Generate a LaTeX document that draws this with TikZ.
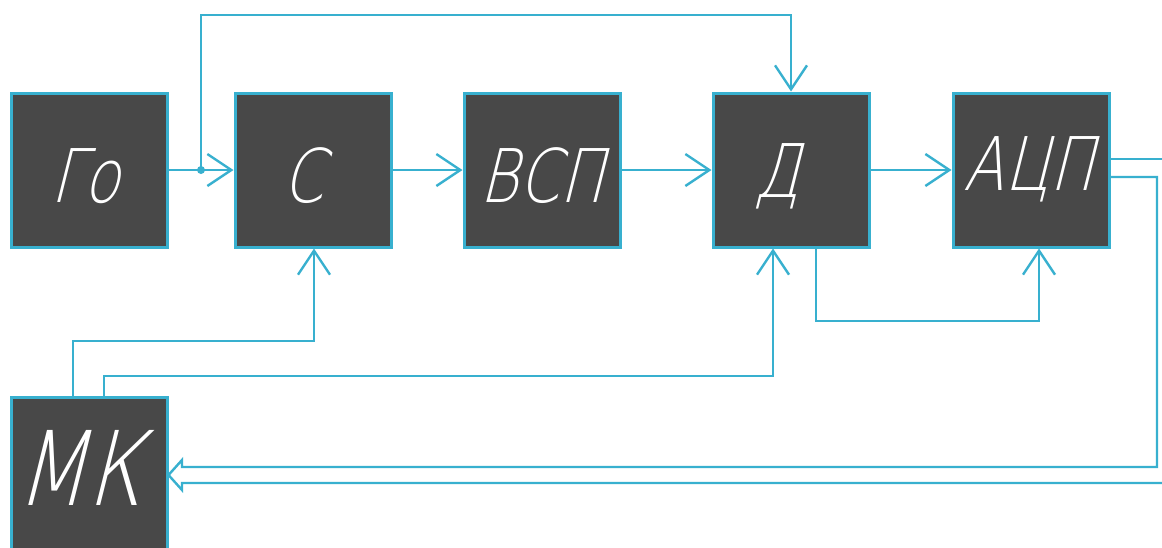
\documentclass[tikz,border=0pt]{standalone}
\usepackage{fontspec}
\newfontfamily\gost[FakeSlant=0.25,FakeStretch=0.8]{DejaVu Sans ExtraLight}
\usetikzlibrary{arrows.meta,calc}
\definecolor{wire}{HTML}{38B0CF}
\definecolor{blockfill}{HTML}{484848}
% label with an optical correction for the slanted face
\newcommand{\lbl}[3]{\raisebox{#2}[\height][\depth]{#3\kern#1}}
\tikzset{
  block/.style={draw=wire, fill=blockfill, line width=3pt, minimum width=156pt,
    minimum height=154pt, inner sep=0pt, text=white, font=\gost\fontsize{74}{74}\selectfont},
  wireline/.style={draw=wire, line width=2.4pt},
  sig/.style={wireline, -{Straight Barb[length=24pt,width=32pt,line width=2.4pt]}},
}
\begin{document}
\begin{tikzpicture}[x=1pt,y=-1pt]
\clip (0,0) rectangle (1162,547);
\fill[white] (0,0) rectangle (1162,547);

% blocks
\node[block] (go)  at (89,170)   {\lbl{8pt}{-6pt}{Го}};
\node[block] (s)   at (313,170)  {\lbl{20pt}{-6pt}{С}};
\node[block] (vsp) at (542,170)  {\lbl{0pt}{-6pt}{ВСП}};
\node[block] (d)   at (791,170)  {\lbl{28pt}{-6pt}{Д}};
\node[block] (adc) at (1031,170) {\lbl{4pt}{1pt}{АЦП}};
\node[block, minimum height=156pt, font=\gost\fontsize{103}{103}\selectfont] (mk) at (89,475)
  {\lbl{20pt}{7pt}{МК}};

% branch point and route points
\coordinate (j)   at (201,170);
\coordinate (top) at (201,15);
\coordinate (r1)  at (314,341);
\coordinate (r2)  at (773,376);
\coordinate (r3)  at (1039,321);
\coordinate (bus) at (1157,467);

% forward chain
\draw[wireline] (go.east) -- (j);
\draw[sig] (j) -- (s.west);
\draw[sig] (s.east) -- (vsp.west);
\draw[sig] (vsp.east) -- (d.west);
\draw[sig] (d.east) -- (adc.west);
\fill[wire] (j) circle (4pt);

% reference path from the generator to Д
\draw[sig] (j) -- (top) -| (d.north);

% МК control lines
\draw[sig] ([xshift=-16pt]mk.north) |- (r1) -- (s.south -| r1);
\draw[sig] ([xshift=15pt]mk.north) |- (r2) -- (d.south -| r2);

% Д to АЦП
\draw[sig] ([xshift=25pt]d.south) |- (r3) -- (adc.south -| r3);

% АЦП outputs
\draw[wireline] ([yshift=11pt]adc.east) -- ++(80,0);
\draw[wireline, line join=miter]
  ([yshift=-7pt]adc.east) -| (bus) -- (182,467) -- (182,460) -- (mk.east |- 0,475)
  -- (182,490) -- (182,483) -- (1170,483);
\end{tikzpicture}
\end{document}
